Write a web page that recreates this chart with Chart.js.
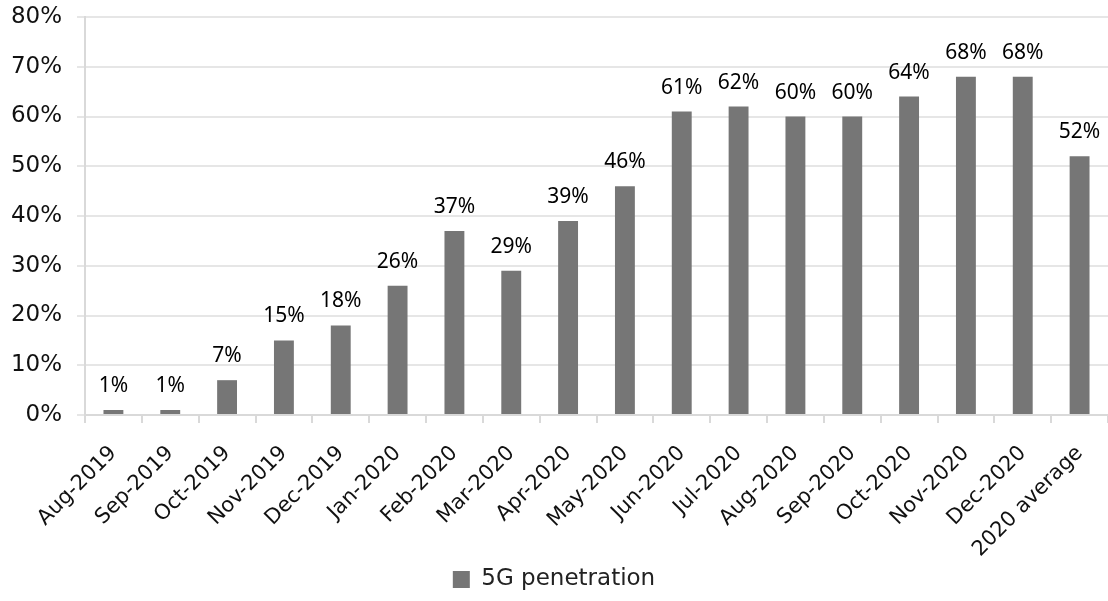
<!DOCTYPE html>
<html>
<head>
<meta charset="utf-8">
<script src="https://cdn.jsdelivr.net/npm/chart.js@4/dist/chart.umd.min.js"></script>
<style>
  html, body { margin: 0; padding: 0; background: #fff; }
  #wrap { width: 1108px; height: 601px; }
</style>
</head>
<body>
<div id="wrap"><canvas id="penChart"></canvas></div>
<script>
// 5G penetration by month
const months = [
  "Aug-2019", "Sep-2019", "Oct-2019", "Nov-2019", "Dec-2019",
  "Jan-2020", "Feb-2020", "Mar-2020", "Apr-2020", "May-2020",
  "Jun-2020", "Jul-2020", "Aug-2020", "Sep-2020", "Oct-2020",
  "Nov-2020", "Dec-2020", "2020 average"
];
const penetration = [1, 1, 7, 15, 18, 26, 37, 29, 39, 46, 61, 62, 60, 60, 64, 68, 68, 52];
const yTicks = [0, 10, 20, 30, 40, 50, 60, 70, 80];

const labelFont = "'Noto Sans', 'Open Sans', sans-serif";
const tickFont = "'DejaVu Sans', sans-serif";

// draw the % values above each bar
const valueLabels = {
  id: "valueLabels",
  afterDatasetsDraw(chart) {
    const ctx = chart.ctx;
    const meta = chart.getDatasetMeta(0);
    ctx.save();
    ctx.font = "21px " + labelFont;
    ctx.fillStyle = "#000";
    ctx.textAlign = "center";
    ctx.textBaseline = "alphabetic";
    meta.data.forEach((bar, i) => {
      ctx.fillText(penetration[i] + "%", bar.x, bar.y - 18);
    });
    ctx.restore();
  }
};

new Chart(document.getElementById("penChart"), {
  type: "bar",
  data: {
    labels: months,
    datasets: [{
      label: "5G penetration",
      data: penetration,
      backgroundColor: "#767676",
      borderWidth: 0,
      barPercentage: 0.35,
      categoryPercentage: 1
    }]
  },
  options: {
    responsive: true,
    maintainAspectRatio: false,
    animation: false,
    layout: { padding: 0 },
    plugins: {
      tooltip: { enabled: false },
      legend: {
        position: "bottom",
        labels: {
          color: "#222",
          font: { size: 23, family: tickFont },
          boxWidth: 17,
          boxHeight: 17,
          padding: 7
        }
      }
    },
    scales: {
      x: {
        afterFit(axis) {
          // fixed label band, y axis decides the left edge
          axis.paddingLeft = 0;
          axis.paddingRight = 0;
          axis.height = 146;
        },
        grid: {
          offset: true,
          drawOnChartArea: false,
          drawTicks: true,
          tickLength: 8,
          color: "#d9d9d9",
          lineWidth: 2
        },
        border: { color: "#d9d9d9", width: 2 },
        ticks: {
          color: "#111",
          font: { size: 21, family: tickFont },
          maxRotation: 45,
          minRotation: 45,
          padding: 18
        }
      },
      y: {
        min: 0,
        max: 80,
        afterBuildTicks(axis) {
          axis.ticks = yTicks.map(v => ({ value: v }));
        },
        afterFit(axis) {
          axis.width = 85;
          axis.paddingTop = 17;
          axis.paddingBottom = 0;
        },
        grid: {
          color: "#e6e6e6",
          lineWidth: 2,
          tickLength: 8
        },
        border: { color: "#d9d9d9", width: 2 },
        ticks: {
          color: "#111",
          font: { size: 23, family: tickFont },
          padding: 15,
          callback: v => v + "%"
        }
      }
    }
  },
  plugins: [valueLabels]
});
</script>
</body>
</html>
